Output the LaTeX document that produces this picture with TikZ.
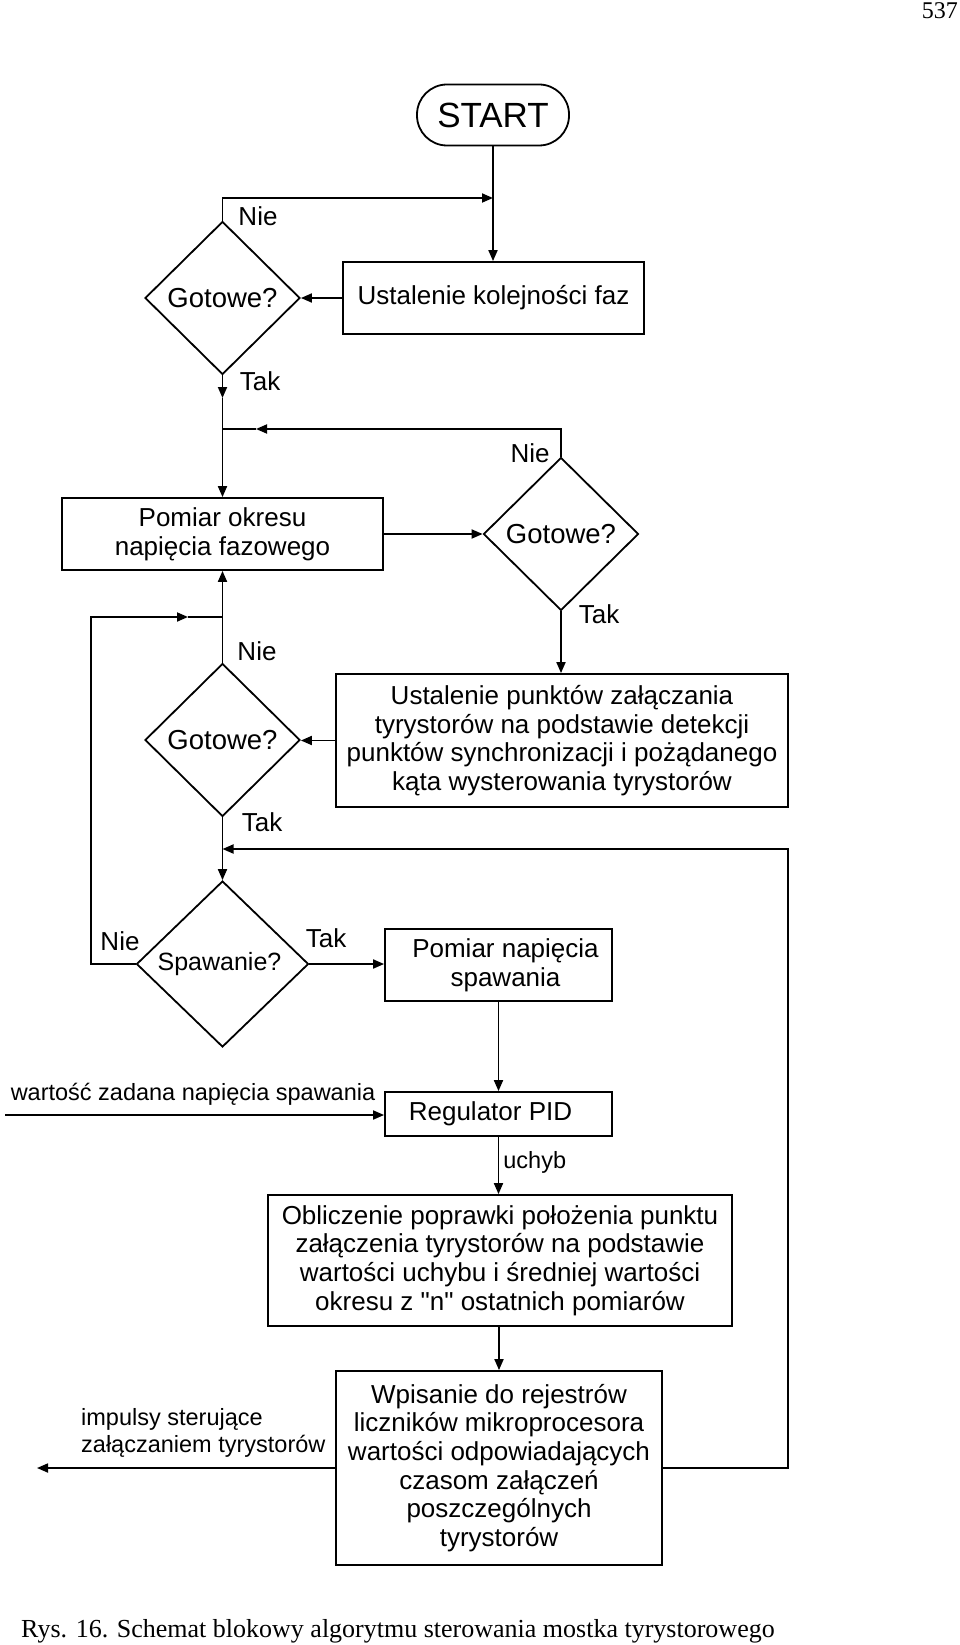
\documentclass[tikz,border=0pt]{standalone}
\usepackage{fontspec}
\setmainfont{Liberation Sans}
\newfontfamily\capfont{Liberation Serif}
\usetikzlibrary{shapes.geometric,arrows.meta}

\begin{document}
\begin{tikzpicture}[x=1pt,y=-1pt]
      \tikzstyle{STY1} = [draw, rectangle, line width=1.8pt, inner sep=0pt, align=center, font=\fontsize{26}{28.6}\selectfont]
      \tikzstyle{STY2} = [line width=1.8pt, -{Triangle[length=11pt, width=9pt]}]
      \tikzstyle{STY3} = [draw, diamond, line width=1.8pt, inner sep=0pt, minimum width=155pt, minimum height=153pt, font=\fontsize{27.5}{28}\selectfont]
      \tikzstyle{STY4} = [inner sep=0pt, font=\fontsize{23.5}{27}\selectfont]
      \tikzstyle{STY5} = [line width=1.8pt]
      \tikzstyle{STY6} = [inner sep=0pt, font=\fontsize{26}{27}\selectfont]

      \useasboundingbox (0,0) rectangle (960,1645);

      %%%%% VERTEX

      \node[draw, line width=1.8pt, rounded corners=30pt, minimum width=152pt, minimum height=61pt, font=\fontsize{35}{35}\selectfont](v0) at (493, 115) {START};

      \node[STY1, minimum width=301pt, minimum height=72pt](v1) at (493.5, 298) {Ustalenie kolejności faz};
      \node[STY3](v2) at (222.5, 298) {Gotowe?};

      \node[STY1, minimum width=321pt, minimum height=72pt](v3) at (222.5, 534) {Pomiar okresu\\napięcia fazowego};
      \node[STY3](v4) at (561, 534) {Gotowe?};

      \node[STY1, minimum width=452pt, minimum height=133pt](v5) at (562, 740.5) {Ustalenie punktów załączania\\tyrystorów na podstawie detekcji\\punktów synchronizacji i pożądanego\\kąta wysterowania tyrystorów};
      \node[STY3](v6) at (222.5, 740) {Gotowe?};

      \node[STY3, minimum width=172pt, minimum height=166pt, font=\fontsize{25}{27}\selectfont](v7) at (222.5, 964) {Spawanie?\hspace*{6pt}};
      \node[STY1, minimum width=227pt, minimum height=72pt](v8) at (498.5, 965) {\hspace*{14pt}Pomiar napięcia\\\hspace*{14pt}spawania};

      \node[STY1, minimum width=227pt, minimum height=44pt](v9) at (498.5, 1114) {Regulator PID\hspace*{16pt}};
      \node[STY1, minimum width=464pt, minimum height=131pt](v10) at (500, 1260.5) {Obliczenie poprawki położenia punktu\\załączenia tyrystorów na podstawie\\wartości uchybu i średniej wartości\\okresu z \textquotedbl n\textquotedbl{} ostatnich pomiarów};
      \node[STY1, minimum width=326pt, minimum height=194pt](v11) at (499, 1468) {Wpisanie do rejestrów\\liczników mikroprocesora\\wartości odpowiadających\\czasom załączeń\\poszczególnych\\tyrystorów};

      %%%%% LABELS

      \node[STY6](l1) at (258, 216) {Nie};
      \node[STY6](l2) at (260, 381) {Tak};
      \node[STY6](l3) at (530, 453) {Nie};
      \node[STY6](l4) at (599, 614) {Tak};
      \node[STY6](l5) at (257, 651) {Nie};
      \node[STY6](l6) at (262, 822) {Tak};
      \node[STY6](l7) at (120, 941) {Nie};
      \node[STY6](l8) at (326, 938) {Tak};
      \node[STY4](l9) at (193, 1094) {wartość zadana napięcia spawania};
      \node[STY4, align=left, anchor=west](l10) at (81, 1433) {impulsy sterujące\\załączaniem tyrystorów};
      \node[inner sep=0pt, anchor=base west, font=\capfont\fontsize{26}{28}\selectfont](l11) at (21, 1637) {Rys. 16. Schemat blokowy algorytmu sterowania mostka tyrystorowego};
      \node[inner sep=0pt, anchor=east, font=\capfont\fontsize{24}{26}\selectfont](l12) at (958, 11) {537};

      \coordinate (c1) at (493, 198);
      \coordinate (c2) at (222.5, 429);
      \coordinate (c2a) at (256, 429);
      \coordinate (c3) at (222.5, 617);
      \coordinate (c3a) at (188, 617);
      \coordinate (c3b) at (91, 617);
      \coordinate (c4) at (222.5, 849);
      \coordinate (c5) at (788, 849);
      \coordinate (c6) at (222.5, 398);
      \coordinate (c7) at (5, 1115);
      \coordinate (c8) at (37, 1468);

      %%%%% EDGES
      \draw[STY2]  (v0.south) -- (v0.south |- v1.north);
      \draw[STY2]  (v1.west) -- (v2.east);
      \draw[STY2]  (v2.north) |- (c1);
      \draw[STY2]  (v2.south) -- (c6);
      \draw[STY2]  (c6) -- (v3.north);

      \draw[STY2]  (v3.east) -- (v4.west);
      \draw[STY2]  (v4.north) |- (c2a);
      \draw[STY5]  (c2a) -- (c2);
      \draw[STY2]  (v4.south) -- (v4.south |- v5.north);

      \draw[STY2]  (v5.west) -- (v5.west -| v6.east);
      \draw[STY2]  (v6.north) -- (v3.south);
      \draw[STY2]  (v6.south) -- (v7.north);

      \draw[STY2]  (v7.west) -| (c3b) -- (c3a);
      \draw[STY5]  (c3a) -- (c3);
      \draw[STY2]  (v7.east) -- (v7.east -| v8.west);

      \draw[STY2]  (v8.south) -- (v9.north);
      \draw[STY2]  (c7) -- (c7 -| v9.west);
      \draw[STY2]  (v9.south) -- (v9.south |- v10.north) node[STY4, right=4pt, pos=0.45](l13) {uchyb};
      \draw[STY2]  (v10.south) -- (v10.south -| v11.north) -- (v11.north);

      \draw[STY2]  (v11.east) -| (c5) -- (c4);
      \draw[STY2]  (v11.west) -- (c8);
\end{tikzpicture}
\end{document}
